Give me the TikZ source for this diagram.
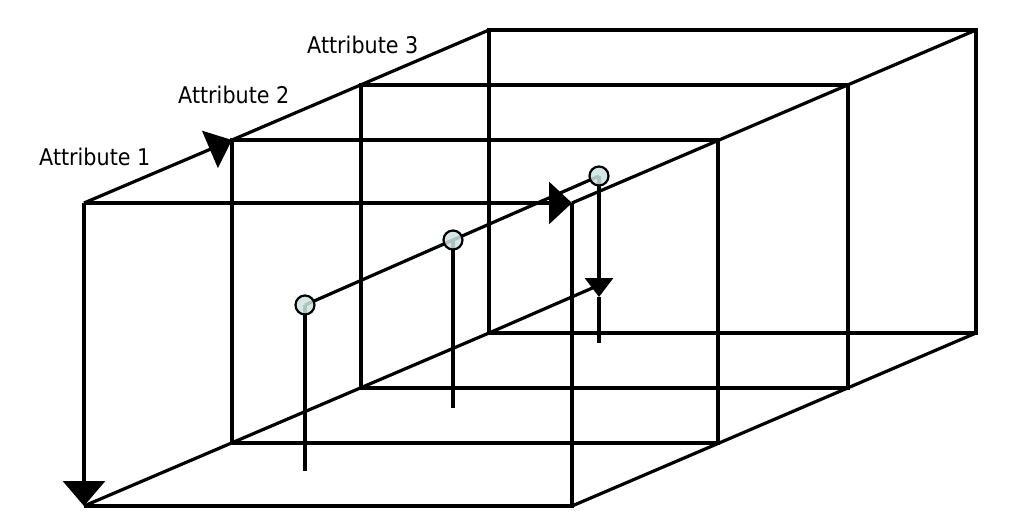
\documentclass[tikz,border=0pt]{standalone}
\usepackage{fontspec}
\newfontfamily\attrfont{DejaVu Sans}[FakeStretch=0.9]
\usetikzlibrary{arrows.meta}
\definecolor{dotfill}{RGB}{205,228,226}
\begin{document}
\begin{tikzpicture}[x=1pt,y=-1pt,
  edge/.style={line width=3.2pt, line join=miter},
  bigtip/.style={-{Triangle[length=25pt,width=42pt]}},
  diagtip/.style={-{Triangle[length=24pt,width=40pt]}},
  smalltip/.style={-{Triangle[length=19pt,width=28pt]}},
  dot/.style={circle, draw, line width=2.2pt, fill=dotfill, fill opacity=0.85, minimum size=19pt, inner sep=0pt},
  lab/.style={anchor=base west, inner sep=0pt, font=\attrfont\fontsize{23}{27}\selectfont}]
\useasboundingbox (0,0) rectangle (1024,532);
% front face
\coordinate (Ftl) at (84,203);
\coordinate (Ftr) at (572,203);
\coordinate (Fbr) at (572,506);
\coordinate (Fbl) at (84,506);
% slice 2
\coordinate (Stl) at (232,140);
\coordinate (Str) at (718,140);
\coordinate (Sbr) at (718,443);
\coordinate (Sbl) at (232,443);
% slice 3
\coordinate (Ttl) at (361,85);
\coordinate (Ttr) at (848,85);
\coordinate (Tbr) at (848,388);
\coordinate (Tbl) at (361,388);
% back face
\coordinate (Btl) at (489,30);
\coordinate (Btr) at (976,30);
\coordinate (Bbr) at (976,333);
\coordinate (Bbl) at (489,333);
% data points
\coordinate (P1) at (305,305);
\coordinate (P2) at (453,240);
\coordinate (P3) at (599,176);
\coordinate (E1) at (305,471);
\coordinate (E2) at (453,408);
\coordinate (E3) at (599,343);
\coordinate (M3) at (599,297);
\coordinate (D) at (597,286);

% slices
\draw[edge] (Stl) rectangle (Sbr);
\draw[edge] (Ttl) rectangle (Tbr);
\draw[edge] (Btl) rectangle (Bbr);
% front face
\draw[edge] (Fbl) -- (Fbr) -- (Ftr);
\draw[edge,bigtip] (Ftl) -- (Fbl);
\draw[edge,-{Triangle[length=23pt,width=42pt]}] (Ftl) -- (Ftr);
% depth edges
\draw[edge,diagtip] (Ftl) -- (Stl);
\draw[edge] (Stl) -- (Btl);
\draw[edge] (Ftr) -- (Btr);
\draw[edge] (Fbl) -- (Bbl);
\draw[edge] (Fbr) -- (Bbr);
\draw[edge] (Bbl) -- (D);
% data lines
\draw[edge] (P1) -- (P2) -- (P3);
\draw[edge] (P1) -- (E1);
\draw[edge] (P2) -- (E2);
\draw[edge,smalltip] (P3) -- (M3);
\draw[edge] (M3) -- (E3);
% points
\node[dot] (p1) at (P1) {};
\node[dot] (p2) at (P2) {};
\node[dot] (p3) at (P3) {};
% labels
\node[lab] (a1) at (39,165) {Attribute 1};
\node[lab] (a2) at (178,104) {Attribute 2};
\node[lab] (a3) at (307,54) {Attribute 3};
\end{tikzpicture}
\end{document}
